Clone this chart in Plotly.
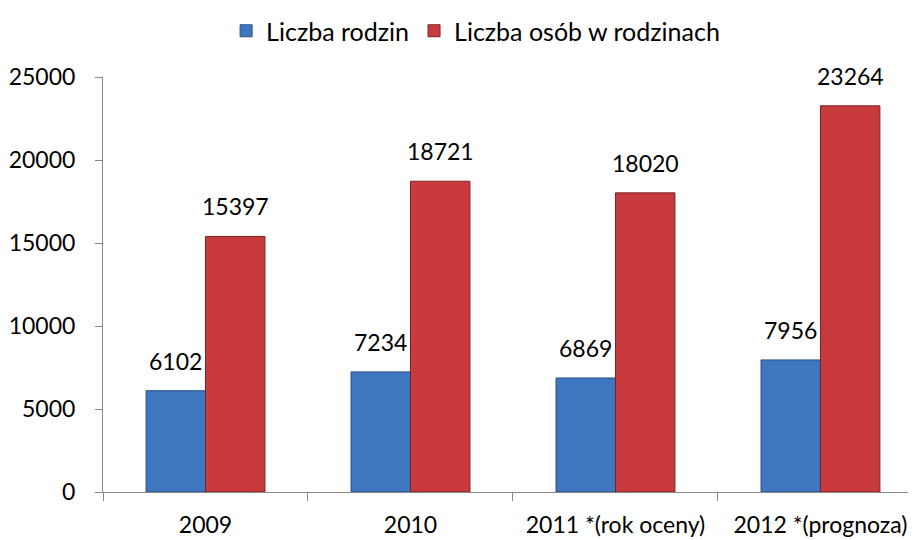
import plotly.graph_objects as go

categories = ["2009", "2010", "2011 *(rok oceny)", "2012 *(prognoza)"]
rodziny = [6102, 7234, 6869, 7956]
osoby = [15397, 18721, 18020, 23264]
series_names = ["Liczba rodzin", "Liczba osób w rodzinach"]
y_ticks = [0, 5000, 10000, 15000, 20000, 25000]

FONT = "Lato"
BLUE = "#3e76c0"
RED = "#c93a3c"

fig = go.Figure()
fig.add_trace(go.Bar(x=categories, y=rodziny, name=series_names[0],
                     marker=dict(color=BLUE, line=dict(color="#2a4f80", width=1))))
fig.add_trace(go.Bar(x=categories, y=osoby, name=series_names[1],
                     marker=dict(color=RED, line=dict(color="#7a2224", width=1))))

ann = []
for i, v in enumerate(rodziny):
    ann.append(dict(x=i, y=v, text=str(v), showarrow=False, xshift=-30, yshift=14,
                    yanchor="bottom", font=dict(family=FONT, size=23, color="black")))
for i, v in enumerate(osoby):
    ann.append(dict(x=i, y=v, text=str(v), showarrow=False, xshift=30, yshift=14,
                    yanchor="bottom", font=dict(family=FONT, size=23, color="black")))

fig.update_layout(
    width=908, height=532,
    barmode="group", bargap=0.42, bargroupgap=0,
    plot_bgcolor="white", paper_bgcolor="white",
    margin=dict(l=95, r=0, t=69, b=48, autoexpand=False),
    font=dict(family=FONT, size=23, color="black"),
    showlegend=True,
    legend=dict(orientation="h", xref="container", x=0.515, xanchor="center",
                yref="container", y=1.0, yanchor="top",
                font=dict(family=FONT, size=25), itemwidth=30,
                traceorder="normal"),
    annotations=ann,
)
fig.update_xaxes(type="category", range=[-0.5, 3.466], showline=True, linecolor="#888888",
                 linewidth=1, ticks="outside", tickson="boundaries", ticklen=8,
                 tickcolor="#888888", showgrid=False, zeroline=False, automargin=False,
                 ticklabelstandoff=12, tickfont=dict(family=FONT, size=23))
fig.update_yaxes(range=[0, 25000], tickvals=y_ticks, tickformat="d", showline=True,
                 linecolor="#888888", linewidth=1, ticks="outside", ticklen=7,
                 tickcolor="#888888", showgrid=False, zeroline=False, automargin=False,
                 ticklabelstandoff=15, tickfont=dict(family=FONT, size=23))

fig.write_html("out.html")
